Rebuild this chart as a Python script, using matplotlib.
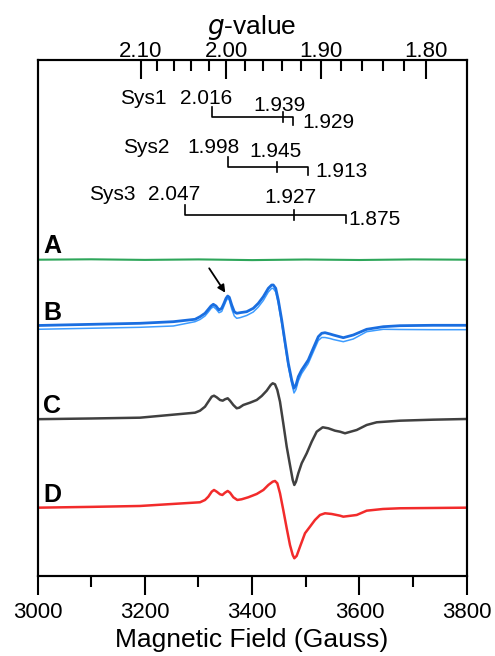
# EPR spectra A-D with g-value stick diagrams for Sys1-Sys3
import numpy as np
import matplotlib
matplotlib.use("Agg")
import matplotlib.pyplot as plt

plt.rcParams["font.family"] = ["Liberation Sans", "DejaVu Sans"]

# --- Data ---

G_CONST = 6704.0  # g * B (Gauss) at the spectrometer frequency

g_major = [2.10, 2.00, 1.90, 1.80]
g_minor = [2.08, 2.06, 2.04, 2.02, 1.98, 1.96, 1.94, 1.92,
           1.88, 1.86, 1.84, 1.82]

sys_names = ["Sys1", "Sys2", "Sys3"]
sys1_g = [2.016, 1.939, 1.929]
sys2_g = [1.998, 1.945, 1.913]
sys3_g = [2.047, 1.927, 1.875]

# trace A (flat)
field_a = [3000, 3100, 3200, 3300, 3400, 3500, 3600, 3700, 3800]
int_a = [0.0, 0.4, -0.2, 0.3, -0.4, 0.2, -0.3, 0.3, 0.0]

# trace B, two overlaid scans
field_b = [3000, 3191.0, 3253.1, 3293.6, 3302.9, 3312.2, 3318.4, 3323.4, 3327.7,
           3332.7, 3338.3, 3343.3, 3347.6, 3351.4, 3354.5, 3357.5, 3362.0, 3366.8,
           3371.3, 3377.4, 3389.9, 3402.2, 3411.6, 3420.9, 3430.2, 3436.5, 3439.5,
           3444.0, 3448.8, 3455.2, 3461.3, 3467.5, 3473.8, 3478.1, 3481.8, 3486.1,
           3492.4, 3498.6, 3504.7, 3514.0, 3523.4, 3529.7, 3535.9, 3545.2, 3551.4,
           3570.0, 3588.6, 3613.6, 3644.5, 3675.6, 3737.7, 3800]
int_b1 = [0.0, 2.2, 3.8, 6.2, 8.8, 12.2, 16.2, 19.5, 21.2,
          19.5, 15.5, 17.2, 22.2, 27.2, 29.5, 28.2, 20.5, 13.8,
          12.2, 12.8, 13.8, 17.2, 22.2, 28.8, 37.2, 40.5, 40.5,
          37.2, 25.5, 5.5, -16.2, -37.8, -54.5, -62.8, -59.5, -51.2,
          -44.5, -39.5, -34.5, -22.8, -11.2, -7.8, -7.2, -8.5, -9.5,
          -12.2, -9.5, -3.8, -1.2, -0.2, 0.2, 0.2]
int_b2 = [-3.8, -1.8, -0.5, 3.8, 6.0, 9.5, 13.5, 17.0, 18.8,
          16.5, 12.8, 14.0, 19.5, 24.5, 27.2, 25.5, 16.5, 9.5,
          7.2, 7.8, 10.0, 13.5, 18.5, 25.0, 33.5, 37.2, 37.0,
          33.5, 22.0, 2.0, -19.5, -41.0, -58.0, -67.5, -64.0, -55.5,
          -48.0, -43.0, -38.0, -26.5, -15.0, -12.0, -12.0, -13.0, -14.0,
          -16.2, -13.5, -6.2, -3.8, -4.0, -4.2, -4.2]

# trace C
field_c = [3000, 3100, 3191.0, 3293.6, 3302.9, 3312.2, 3318.4, 3324.7, 3329.0,
           3334.0, 3340.2, 3345.2, 3349.5, 3354.5, 3358.8, 3365.0, 3371.3, 3376.1,
           3383.6, 3396.1, 3408.6, 3417.9, 3427.2, 3434.7, 3438.4, 3442.7, 3447.0,
           3452.0, 3458.1, 3464.5, 3470.6, 3475.7, 3478.7, 3481.8, 3486.1, 3492.4,
           3501.8, 3511.1, 3520.4, 3531.6, 3542.0, 3554.5, 3563.8, 3573.2, 3595.0,
           3613.6, 3632.2, 3675.6, 3737.2, 3800]
int_c = [0.0, 0.7, 1.5, 6.5, 8.5, 12.5, 17.5, 22.5, 23.5,
         21.9, 19.2, 18.5, 19.9, 20.9, 18.5, 14.2, 10.9, 11.5,
         14.2, 16.5, 19.2, 23.2, 28.5, 34.2, 35.9, 34.9, 29.2,
         17.5, -4.1, -27.5, -45.8, -60.8, -65.8, -62.5, -54.1, -44.1,
         -34.1, -22.5, -12.5, -8.1, -9.1, -11.5, -12.5, -14.1, -10.8,
         -5.8, -3.1, -1.5, -0.5, 0.2]

# trace D
field_d = [3000, 3100, 3191.0, 3302.9, 3312.2, 3318.4, 3324.7, 3329.0, 3334.0,
           3340.2, 3344.6, 3349.5, 3354.5, 3358.8, 3365.0, 3372.4, 3380.5, 3392.9,
           3408.6, 3421.0, 3430.3, 3438.4, 3442.7, 3447.0, 3452.0, 3458.1, 3464.5,
           3470.6, 3475.7, 3478.7, 3483.0, 3489.3, 3498.6, 3507.9, 3517.2, 3526.6,
           3535.9, 3548.3, 3563.8, 3570.0, 3595.0, 3613.6, 3644.0, 3675.6, 3800]
int_d = [0.0, 0.8, 1.7, 5.4, 7.7, 11.0, 16.0, 17.7, 16.0,
         13.4, 12.7, 15.0, 16.7, 15.0, 10.4, 7.7, 8.4, 10.4,
         13.7, 17.7, 22.7, 26.0, 26.7, 24.4, 14.4, -2.3, -20.6,
         -37.3, -47.3, -50.6, -48.3, -39.0, -25.6, -19.0, -12.3, -7.3,
         -5.6, -6.3, -8.0, -9.0, -7.3, -3.0, -1.3, -0.6, 0.0]

labels = ["A", "B", "C", "D"]

# --- Layout / style ---
offsets = {"A": 316.3, "B": 250.5, "C": 156.8, "D": 68.3}
label_y = {"A": 322.7, "B": 256.0, "C": 162.7, "D": 73.7}
stick_y = [459.3, 408.7, 361.0]

fig = plt.figure(figsize=(4.95, 6.56), dpi=100)
ax = fig.add_axes([0.0758, 0.122, 0.8670, 0.7865])
ax.set_xlim(3000, 3800)
ax.set_ylim(0, 516)

ax.plot(field_a, np.array(int_a) + offsets["A"], color="#2ea65a", lw=1.5)
ax.plot(field_b, np.array(int_b2) + offsets["B"], color="#3d9cff", lw=1.1)
ax.plot(field_b, np.array(int_b1) + offsets["B"], color="#1a6ee0", lw=2.0)
ax.plot(field_c, np.array(int_c) + offsets["C"], color="#404040", lw=1.8)
ax.plot(field_d, np.array(int_d) + offsets["D"], color="#f22b2b", lw=1.8)

for lab in labels:
    ax.text(3011, label_y[lab], lab, fontsize=18, fontweight="bold",
            ha="left", va="baseline")

# arrow pointing to the B feature
ax.annotate("", xy=(3350, 283.3), xytext=(3320, 307.7),
            arrowprops=dict(arrowstyle="-|>", color="black", lw=1.3,
                            mutation_scale=11, shrinkA=0, shrinkB=0))

# stick diagrams
for g_vals, y0 in zip([sys1_g, sys2_g, sys3_g], stick_y):
    b = [G_CONST / g for g in g_vals]
    ax.plot([b[0], b[0], b[2], b[2]], [y0 + 10, y0, y0, y0 - 8],
            color="black", lw=1.2)
    ax.plot([b[1], b[1]], [y0 + 5, y0 - 5], color="black", lw=1.2)

sys_text = [
    # (x Gauss, y, text)
    (3196.6, 478.0, sys_names[0]), (3314.0, 478.0, "2.016"),
    (3452.0, 471.0, "1.939"), (3541.5, 454.0, "1.929"),
    (3202.0, 429.0, sys_names[1]), (3328.4, 429.0, "1.998"),
    (3443.0, 425.0, "1.945"), (3567.0, 405.0, "1.913"),
    (3139.8, 381.3, sys_names[2]), (3253.9, 381.3, "2.047"),
    (3470.6, 378.5, "1.927"), (3629.0, 357.0, "1.875"),
]
for x, y, t in sys_text:
    ax.text(x, y, t, fontsize=15, ha="center", va="center")

# bottom axis
ax.set_yticks([])
ax.set_xticks([3000, 3200, 3400, 3600, 3800])
ax.set_xticks([3100, 3300, 3500, 3700], minor=True)
ax.tick_params(axis="x", which="major", direction="out", length=14, width=1.5,
               labelsize=16, pad=5)
ax.tick_params(axis="x", which="minor", direction="out", length=8, width=1.5)
ax.set_xlabel("Magnetic Field (Gauss)", fontsize=19, labelpad=3)
for s in ax.spines.values():
    s.set_linewidth(1.5)

# top g-value axis
ax2 = ax.twiny()
ax2.set_xlim(3000, 3800)
ax2.set_xticks([G_CONST / g for g in g_major])
ax2.set_xticklabels([f"{g:.2f}" for g in g_major])
ax2.set_xticks([G_CONST / g for g in g_minor], minor=True)
ax2.tick_params(axis="x", which="major", direction="in", length=14, width=1.5,
                labelsize=16, pad=-1.5)
ax2.tick_params(axis="x", which="minor", direction="in", length=8, width=1.5)
ax2.set_xlabel("$\\it{g}$-value", fontsize=19, labelpad=5)
for s in ax2.spines.values():
    s.set_linewidth(1.5)

fig.savefig("out.png", dpi=100)
